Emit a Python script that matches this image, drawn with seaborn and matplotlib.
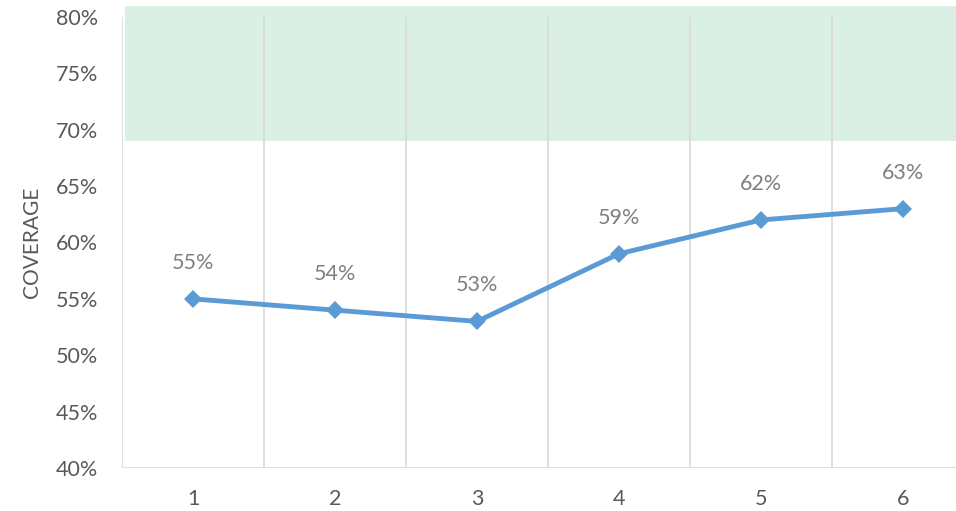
import pandas as pd
import matplotlib
matplotlib.use('Agg')
import matplotlib.pyplot as plt
import seaborn as sns

# Dades del gràfic
periodes = [1, 2, 3, 4, 5, 6]
cobertura = [0.55, 0.54, 0.53, 0.59, 0.62, 0.63]
etiquetes = ['55%', '54%', '53%', '59%', '62%', '63%']
ytick_vals = [0.40, 0.45, 0.50, 0.55, 0.60, 0.65, 0.70, 0.75, 0.80]
ytick_labels = ['40%', '45%', '50%', '55%', '60%', '65%', '70%', '75%', '80%']
banda_objectiu = (0.69, 0.81)

df = pd.DataFrame({'periode': periodes, 'cobertura': cobertura})

sns.set_style('white')
plt.rcParams['font.family'] = ['Lato', 'DejaVu Sans']

fig = plt.figure(figsize=(9.56, 5.11), dpi=100)
ax = fig.add_axes([122 / 956, 43 / 511, 852 / 956, 451 / 511])

# Banda verda de l'objectiu
ax.axhspan(banda_objectiu[0], banda_objectiu[1], xmin=0.003, xmax=1, color='#daf0e4',
           zorder=0, clip_on=False, lw=0)

# Línies verticals de separació entre categories
for xv in [p + 0.5 for p in periodes[:-1]] + [periodes[0] - 0.5]:
    ax.plot([xv, xv], [ytick_vals[0], ytick_vals[-1]], color='#d9d9d9', lw=1.2, zorder=1)
ax.axhline(ytick_vals[0], color='#d9d9d9', lw=1.2, zorder=1)

sns.lineplot(data=df, x='periode', y='cobertura', ax=ax, color='#5b9bd5',
             linewidth=3.5, marker='D', markersize=9, markeredgewidth=0, zorder=3)

for x, y, t in zip(periodes, cobertura, etiquetes):
    ax.annotate(t, (x, y), xytext=(0, 26), textcoords='offset points',
                ha='center', va='center', fontsize=15.5, color='#7f7f7f')

ax.set_xlim(0.5, 6.5)
ax.set_ylim(ytick_vals[0], ytick_vals[-1])
ax.set_xticks(periodes)
ax.set_xticklabels([str(p) for p in periodes])
ax.set_yticks(ytick_vals)
ax.set_yticklabels(ytick_labels)
ax.tick_params(axis='both', length=0, labelsize=15.5, labelcolor='#595959')
ax.tick_params(axis='x', pad=15)
ax.tick_params(axis='y', pad=17)
ax.set_xlabel('')
ax.set_ylabel('COVERAGE', fontsize=15, color='#595959', labelpad=10)
for s in ax.spines.values():
    s.set_visible(False)

fig.savefig('out.png', dpi=100)
